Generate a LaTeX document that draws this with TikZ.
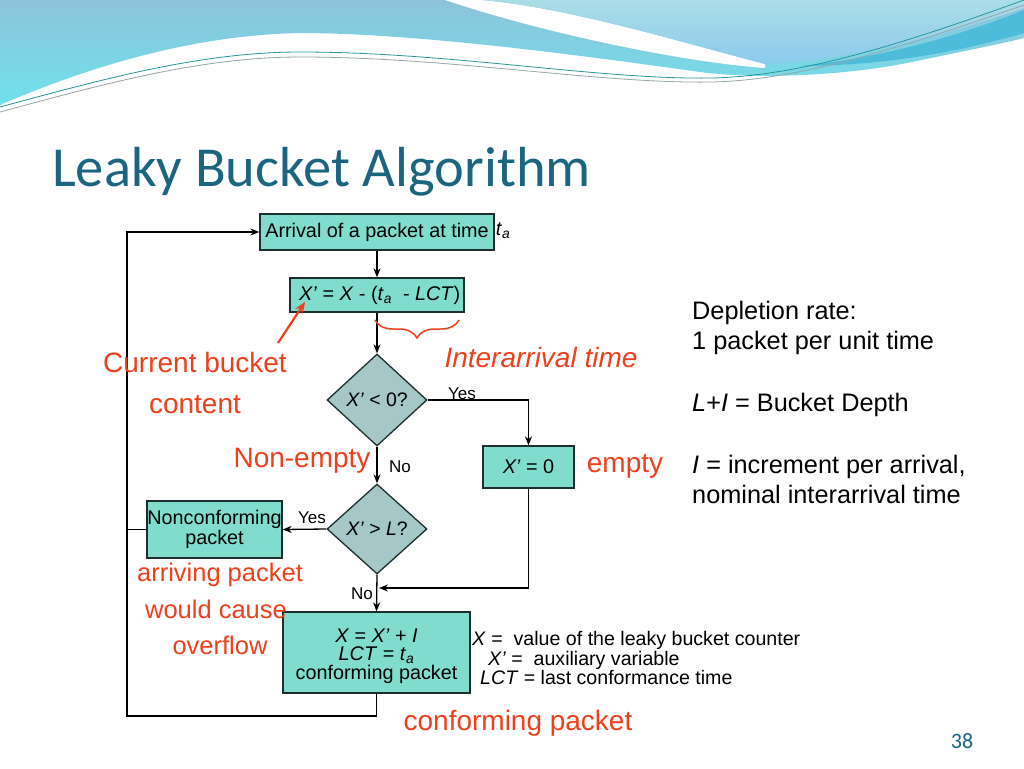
\documentclass[tikz,border=0pt]{standalone}
\usepackage{fontspec}
\setmainfont{Liberation Sans}
\newfontfamily\titlefont{Carlito}
\usetikzlibrary{shapes.geometric,arrows.meta,decorations.pathreplacing}
\definecolor{bandTop}{RGB}{140,195,218}
\definecolor{bandBot}{RGB}{112,226,236}
\definecolor{upTop}{RGB}{170,222,230}
\definecolor{upBot}{RGB}{140,202,238}
\definecolor{darkBand}{RGB}{77,188,218}
\definecolor{lineTeal}{RGB}{40,150,150}
\definecolor{lineGrey}{RGB}{150,165,170}
\definecolor{titlecol}{RGB}{27,101,128}
\definecolor{boxfill}{RGB}{128,220,204}
\definecolor{diafill}{RGB}{166,199,199}
\definecolor{boxline}{RGB}{30,46,46}
\definecolor{notered}{RGB}{238,64,28}
\newcommand\fsz[2]{\fontsize{#1}{#2}\selectfont}
\tikzset{
  box/.style={draw=boxline, fill=boxfill, line width=1.3pt, inner sep=0pt, align=center, font=\fsz{19.8}{19.5}},
  boxtext/.style={inner sep=0pt, align=center, font=\fsz{19.8}{18.6}},
  dia/.style={diamond, draw=boxline, fill=diafill, line width=1.3pt, inner sep=0pt, font=\fsz{19.5}{20}},
  flow/.style={line width=1.3pt, -{Stealth[length=9pt,width=7pt]}},
  plain/.style={line width=1.3pt},
  note/.style={text=notered, font=\fsz{28}{30}, inner sep=0pt, anchor=base},
  smallnote/.style={note, font=\fsz{25.5}{28}},
  lbl/.style={font=\fsz{17}{18}, inner sep=0pt, anchor=base},
  side/.style={font=\fsz{25.3}{28}, inner sep=0pt, anchor=base west},
  leg/.style={font=\fsz{19.6}{20}, inner sep=0pt, anchor=base west},
  redarrow/.style={draw=notered, line width=2.2pt, -{Stealth[length=11pt,width=9pt]}},
}
\begin{document}
\begin{tikzpicture}[x=1pt,y=-1pt]
\useasboundingbox (0,0) rectangle (1024,768);
\fill[white] (0,0) rectangle (1024,768);
% background waves
\shade[top color=bandTop, bottom color=bandBot] (0,0) -- (0,105)
  .. controls (100,62) and (200,35) .. (300,33)
  .. controls (420,33) and (600,58) .. (700,72)
  .. controls (760,80) and (850,75) .. (912,62)
  .. controls (960,52) and (1000,44) .. (1024,38) -- (1024,0) -- cycle;
\fill[white] (445,0) .. controls (540,32) and (680,62) .. (765,68)
  -- (765,64) .. controls (680,42) and (570,8) .. (482,0) -- cycle;
\shade[top color=upTop, bottom color=upBot] (482,0) .. controls (570,8) and (680,42) .. (765,64)
  .. controls (860,60) and (960,30) .. (1024,8) -- (1024,0) -- cycle;
\fill[darkBand] (800,66) .. controls (880,58) and (960,36) .. (1024,10)
  -- (1024,33) .. controls (960,52) and (880,66) .. (800,66) -- cycle;
\draw[lineTeal, line width=0.8pt] (0,107) .. controls (100,80) and (200,52) .. (300,52)
  .. controls (450,52) and (600,80) .. (712,78) .. controls (800,76) and (900,45) .. (1024,0);
\draw[lineGrey, line width=0.8pt] (0,112) .. controls (100,85) and (200,57) .. (300,57)
  .. controls (450,57) and (600,84) .. (712,82) .. controls (800,80) and (900,48) .. (1024,5);
% title
\node[anchor=base west, inner sep=0pt, text=titlecol, font=\titlefont\fsz{56.5}{60}] (title) at (52,186) {Leaky Bucket Algorithm};
\node[anchor=base, inner sep=0pt, text=titlecol, font=\titlefont\fsz{22}{24}] (pg) at (962,748) {38};
% flowchart nodes
\node[box, minimum width=234pt, minimum height=36pt] (arr) at (377,232) {Arrival of a packet at time};
\node[anchor=west, inner sep=1pt, font=\fsz{19.8}{20}] (ta) at ([yshift=1pt]arr.east) {\textit{t}\textsubscript{\textit{a}}};
\node[box, minimum width=174pt, minimum height=34pt] (upd) at (377,295) {\ \textit{X’} = \textit{X} - (\textit{t}\textsubscript{\textit{a}}\ \ - \textit{LCT})};
\node[dia, minimum width=100pt, minimum height=92pt] (d1) at (377,400) {\textit{X’} < 0?};
\node[box, minimum width=91pt, minimum height=42pt] (zero) at (528.5,467) {\textit{X’} = 0};
\node[dia, minimum width=100pt, minimum height=90pt] (d2) at (377,529) {\textit{X’} > \textit{L}?};
\node[box, minimum width=135pt, minimum height=57pt] (nc) at (214.5,529.5) {Nonconforming\\packet};
\node[box, minimum width=187pt, minimum height=81pt] (conf) at (376.5,652.5) {};
\node[boxtext] (conftxt) at (376.5,656) {\textit{X} = \textit{X’} + \textit{I}\\\textit{LCT} = \textit{t}\textsubscript{\textit{a}}\\conforming packet};
% connectors
\coordinate (join) at (379,588);
\coordinate (lb) at (127,716);
\draw[flow] (arr) -- (upd);
\draw[flow] (upd) -- (d1);
\draw[flow] (d1.east) -| (zero.north);
\draw[flow] (d1.south) -- (d2.north);
\draw[flow] (d2.west) -- (nc.east);
\draw[flow] (d2.south) -- (conf.north);
\draw[flow] (zero.south) |- (join);
\draw[flow] (conf.south) |- (lb) |- (arr.west);
\draw[plain] (nc.west) -- (nc.west -| lb);
% branch labels
\node[lbl] (yes1) at (462,399) {Yes};
\node[lbl] (no1) at (400,472) {No};
\node[lbl] (yes2) at (312,523) {Yes};
\node[lbl] (no2) at (362,599) {No};
% red annotations
\node[note] (cur) at (195,372) {Current bucket};
\node[note] (cont) at (195,413) {content};
\node[note] (nonempty) at (302,467) {Non-empty};
\node[note, font=\itshape\fsz{28}{30}] (inter) at (541,367) {Interarrival time};
\node[note] (empty) at (625,472) {empty};
\node[smallnote] (arrp) at (220,581) {arriving packet};
\node[smallnote] (would) at (216,618) {would cause};
\node[smallnote] (over) at (220,654) {overflow};
\node[note] (confp) at (518,730) {conforming packet};
\coordinate (rtail) at (278,343);
\coordinate (rhead) at (305,302);
\draw[redarrow] (rtail) -- (rhead);
\coordinate (brR) at (459,320);
\coordinate (brL) at (375,320);
\draw[notered, line width=1.5pt, decorate, decoration={brace, amplitude=18pt}] (brR) -- (brL);
% legend
\node[leg] (lg1) at (472,645) {\textit{X} =\ \ value of the leaky bucket counter};
\node[leg] (lg2) at (488,665) {\textit{X’} =\ \ auxiliary variable};
\node[leg] (lg3) at (480,684) {\textit{LCT} = last conformance time};
% side text
\node[side] (s1) at (692,319) {Depletion rate:};
\node[side] (s2) at (692,349) {1 packet per unit time};
\node[side] (s3) at (692,411) {\textit{L}+\textit{I} = Bucket Depth};
\node[side] (s4) at (692,473) {\textit{I} = increment per arrival,};
\node[side] (s5) at (692,503) {nominal interarrival time};
\end{tikzpicture}
\end{document}
